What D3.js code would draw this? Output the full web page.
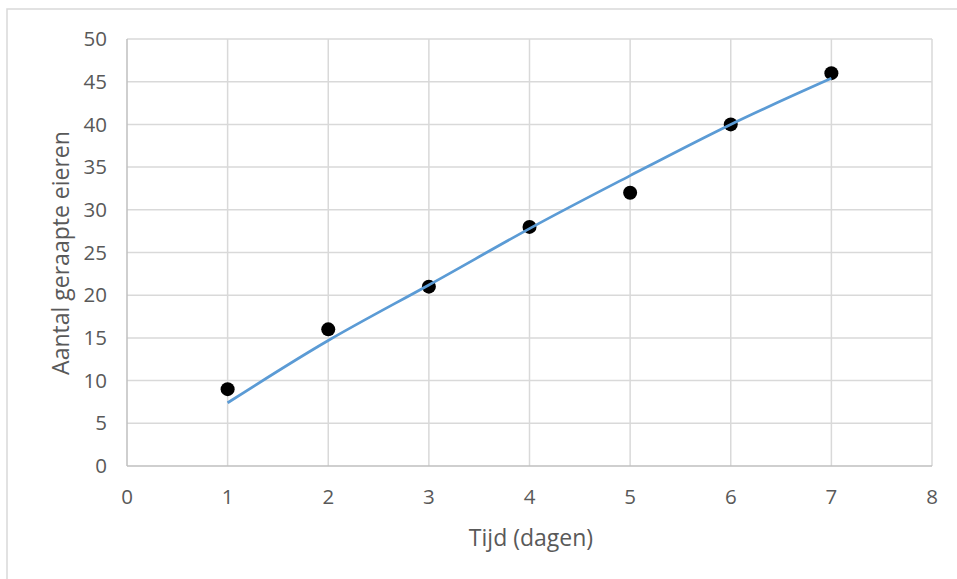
<!DOCTYPE html>
<html>
<head>
<meta charset="utf-8">
<script src="https://cdn.jsdelivr.net/npm/d3@7"></script>
<style>
html,body{margin:0;padding:0;background:#fff;}
svg{display:block;}
text{font-family:"Open Sans","Liberation Sans",sans-serif;fill:#595959;}
</style>
</head>
<body>
<svg id="chart" width="957" height="579"></svg>
<script>
const days = [1, 2, 3, 4, 5, 6, 7];
const eggs = [9, 16, 21, 28, 32, 40, 46];
const trendX = [1, 2, 3, 4, 5, 6, 7];
const trendY = [7.4, 14.7, 21.2, 27.8, 34.0, 40.0, 45.4];
const xTicks = [0, 1, 2, 3, 4, 5, 6, 7, 8];
const yTicks = [0, 5, 10, 15, 20, 25, 30, 35, 40, 45, 50];
const xTitle = "Tijd (dagen)";
const yTitle = "Aantal geraapte eieren";

(function () {
const svg = d3.select("#chart");
const pL = 127, pR = 932, pT = 39, pB = 466;

svg.append("rect").attr("x", 7).attr("y", 9).attr("width", 1000).attr("height", 1000)
  .attr("fill", "#fff").attr("stroke", "#d9d9d9").attr("stroke-width", 1.5);

const x = d3.scaleLinear().domain([0, 8]).range([pL, pR]);
const y = d3.scaleLinear().domain([0, 50]).range([pB, pT]);

// gridlines
svg.append("g").selectAll("line").data(yTicks.filter(d => d > 0)).join("line")
  .attr("x1", pL).attr("x2", pR).attr("y1", d => y(d)).attr("y2", d => y(d))
  .attr("stroke", "#d9d9d9").attr("stroke-width", 1.5);
svg.append("g").selectAll("line").data(xTicks.filter(d => d > 0)).join("line")
  .attr("x1", d => x(d)).attr("x2", d => x(d)).attr("y1", pT).attr("y2", pB)
  .attr("stroke", "#d9d9d9").attr("stroke-width", 1.5);

// axis lines
svg.append("line").attr("x1", pL).attr("x2", pL).attr("y1", pT).attr("y2", pB)
  .attr("stroke", "#bfbfbf").attr("stroke-width", 1.5);
svg.append("line").attr("x1", pL).attr("x2", pR).attr("y1", pB).attr("y2", pB)
  .attr("stroke", "#bfbfbf").attr("stroke-width", 1.5);

// tick labels
svg.append("g").selectAll("text").data(yTicks).join("text")
  .attr("x", 107).attr("y", d => y(d)).attr("dy", "0.35em")
  .attr("text-anchor", "end").attr("font-size", 20.5).text(d => d);
svg.append("g").selectAll("text").data(xTicks).join("text")
  .attr("x", d => x(d)).attr("y", 497).attr("dy", "0.35em")
  .attr("text-anchor", "middle").attr("font-size", 20.5).text(d => d);

// titles
svg.append("text").attr("x", 531).attr("y", 538).attr("dy", "0.35em")
  .attr("text-anchor", "middle").attr("font-size", 23).text(xTitle);
svg.append("text").attr("transform", "translate(61,253) rotate(-90)").attr("dy", "0.35em")
  .attr("text-anchor", "middle").attr("font-size", 23).text(yTitle);

// points
svg.append("g").selectAll("circle").data(days.map((d, i) => [d, eggs[i]])).join("circle")
  .attr("cx", d => x(d[0])).attr("cy", d => y(d[1])).attr("r", 7).attr("fill", "#000");

// trendline
const line = d3.line().x(d => x(d[0])).y(d => y(d[1])).curve(d3.curveNatural);
svg.append("path").datum(trendX.map((d, i) => [d, trendY[i]]))
  .attr("d", line).attr("fill", "none").attr("stroke", "#5b9bd5").attr("stroke-width", 2.75);
})();
</script>
</body>
</html>
